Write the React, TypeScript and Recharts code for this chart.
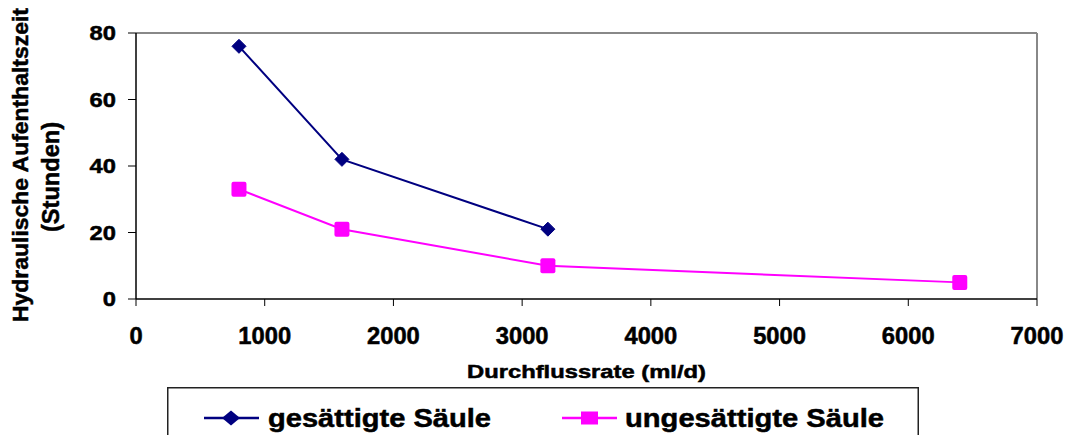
import React from "react";
import { LineChart, Line, XAxis, YAxis, ReferenceLine, Legend } from "recharts";

const xTicks = [0, 1000, 2000, 3000, 4000, 5000, 6000, 7000];
const yTicks = [0, 20, 40, 60, 80];
const gesaettigt = [
  { x: 800, y: 76 },
  { x: 1600, y: 42 },
  { x: 3200, y: 21 },
];
const ungesaettigt = [
  { x: 800, y: 33 },
  { x: 1600, y: 21 },
  { x: 3200, y: 10 },
  { x: 6400, y: 5 },
];
const seriesNames = ["gesättigte Säule", "ungesättigte Säule"];
const xTitle = "Durchflussrate (ml/d)";
const yTitle1 = "Hydraulische Aufenthaltszeit";
const yTitle2 = "(Stunden)";

const NAVY = "#000080";
const MAGENTA = "#FF00FF";
const FONT = "'Liberation Sans', Arial, sans-serif";
const HEAVY = { stroke: "#000", strokeWidth: 0.5 };

const XTick = (props: any) => {
  const { x, y, payload } = props;
  const s = String(payload.value);
  return (
    <text x={x} y={y} dy="0.71em" textAnchor="middle" fontFamily={FONT} fontWeight="bold" fontSize={23}
      fill="#000" {...HEAVY} textLength={s.length * 13.2} lengthAdjust="spacingAndGlyphs">{s}</text>
  );
};

const YTick = (props: any) => {
  const { x, y, payload } = props;
  const s = String(payload.value);
  return (
    <text x={x} y={y} dy="0.355em" textAnchor="end" fontFamily={FONT} fontWeight="bold" fontSize={21}
      fill="#000" {...HEAVY} textLength={s.length * 13.2} lengthAdjust="spacingAndGlyphs">{s}</text>
  );
};

const Diamond = (props: any) => {
  const { cx, cy } = props;
  if (cx == null || cy == null) return null;
  return <polygon points={`${cx},${cy - 7} ${cx + 7},${cy} ${cx},${cy + 7} ${cx - 7},${cy}`} fill={NAVY} stroke={NAVY} strokeWidth={1} />;
};

const Square = (props: any) => {
  const { cx, cy } = props;
  if (cx == null || cy == null) return null;
  return <rect x={cx - 7.5} y={cy - 7.5} width={15} height={15} rx={2} fill={MAGENTA} />;
};

const XTitle = (props: any) => {
  const { viewBox } = props;
  const cx = viewBox.x + viewBox.width / 2;
  return (
    <text x={cx} y={378} textAnchor="middle" fontFamily={FONT} fontWeight="bold" fontSize={18.5}
      fill="#000" {...HEAVY} textLength={239} lengthAdjust="spacingAndGlyphs">{xTitle}</text>
  );
};

const YTitle = () => (
  <g>
    <text x={28} y={165} transform="rotate(-90, 28, 165)" textAnchor="middle" fontFamily={FONT} fontWeight="bold"
      fontSize={22} fill="#000" {...HEAVY} textLength={314} lengthAdjust="spacingAndGlyphs">{yTitle1}</text>
    <text x={59} y={177} transform="rotate(-90, 59, 177)" textAnchor="middle" fontFamily={FONT} fontWeight="bold"
      fontSize={23} fill="#000" {...HEAVY} textLength={110} lengthAdjust="spacingAndGlyphs">{yTitle2}</text>
  </g>
);

const LegendContent = () => (
  <svg width={752} height={60} style={{ display: "block" }}>
    <rect x={0.75} y={0.75} width={750.5} height={70} fill="#fff" stroke="#222" strokeWidth={1.5} />
    <line x1={37} y1={31} x2={92} y2={31} stroke={NAVY} strokeWidth={2.5} />
    <polygon points="64,23.5 73,31 64,38.5 55,31" fill={NAVY} />
    <text x={101} y={40} fontFamily={FONT} fontWeight="bold" fontSize={26} fill="#000" {...HEAVY} textLength={223}
      lengthAdjust="spacingAndGlyphs">{seriesNames[0]}</text>
    <line x1={395} y1={31} x2={450} y2={31} stroke={MAGENTA} strokeWidth={2.5} />
    <rect x={414} y={24.5} width={17} height={13} fill={MAGENTA} />
    <text x={458} y={40} fontFamily={FONT} fontWeight="bold" fontSize={26} fill="#000" {...HEAVY} textLength={259}
      lengthAdjust="spacingAndGlyphs">{seriesNames[1]}</text>
  </svg>
);

export default function App() {
  return (
    <div style={{ position: "absolute", left: 0, top: 0, width: 1074, height: 435, background: "#fff", overflow: "hidden" }}>
      <LineChart width={1074} height={435} margin={{ top: 33, right: 37, left: 0, bottom: 0 }}>
        <XAxis
          type="number"
          dataKey="x"
          domain={[0, 7000]}
          ticks={xTicks}
          interval={0}
          allowDataOverflow
          height={136}
          tickSize={7}
          tickMargin={22}
          tick={<XTick />}
          axisLine={{ stroke: "#000", strokeWidth: 1.5 }}
          tickLine={{ stroke: "#000", strokeWidth: 1 }}
          label={<XTitle />}
        />
        <YAxis
          type="number"
          dataKey="y"
          domain={[0, 80]}
          ticks={yTicks}
          interval={0}
          width={136}
          tickSize={8}
          tickMargin={12}
          tick={<YTick />}
          axisLine={{ stroke: "#000", strokeWidth: 1.5 }}
          tickLine={{ stroke: "#000", strokeWidth: 1 }}
          label={<YTitle />}
        />
        <ReferenceLine y={80} stroke="#888" strokeWidth={2} />
        <ReferenceLine x={7000} stroke="#888" strokeWidth={2} />
        <Line
          data={gesaettigt}
          dataKey="y"
          name={seriesNames[0]}
          stroke={NAVY}
          strokeWidth={2}
          dot={<Diamond />}
          activeDot={false}
          isAnimationActive={false}
        />
        <Line
          data={ungesaettigt}
          dataKey="y"
          name={seriesNames[1]}
          stroke={MAGENTA}
          strokeWidth={2}
          dot={<Square />}
          activeDot={false}
          isAnimationActive={false}
        />
        <Legend
          layout="horizontal"
          verticalAlign="middle"
          align="center"
          content={<LegendContent />}
          wrapperStyle={{ left: 167, top: 387, width: 752, height: 60, bottom: "auto", right: "auto" }}
        />
      </LineChart>
    </div>
  );
}
